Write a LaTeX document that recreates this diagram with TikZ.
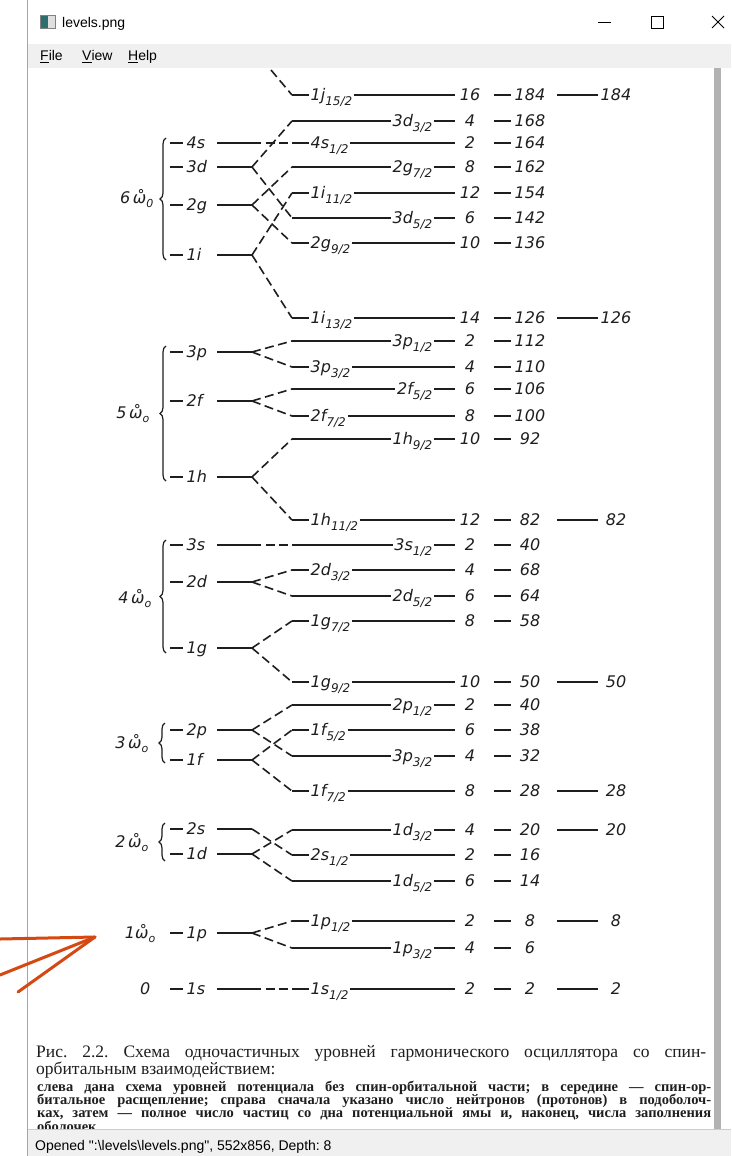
\documentclass[tikz,border=0pt]{standalone}
\usepackage{fontspec}
\setmainfont{Liberation Serif}
\newfontfamily\dia{DejaVu Sans}
\newfontfamily\ui{Liberation Sans}
\usetikzlibrary{decorations.pathreplacing}
\frenchspacing
\newcommand\sj[2]{#1\raisebox{-0.55ex}{\fontsize{12}{12}\selectfont #2}}
\newcommand\om[1]{\ooalign{ω\cr\hidewidth˚\hidewidth\cr}\raisebox{-0.55ex}{\fontsize{11}{11}\selectfont #1}}
\definecolor{ink}{HTML}{1E1E1E}
\definecolor{uibar}{HTML}{F0F0F0}
\definecolor{arr}{RGB}{214,72,18}
\definecolor{icon}{HTML}{2B6E6E}
\tikzset{
  lev/.style={line width=2.2pt, draw=ink},
  dl/.style={line width=1.6pt, draw=ink, dash pattern=on 9pt off 4.5pt},
  jlab/.style={font=\dia\itshape\fontsize{16}{16}\selectfont, inner sep=1.5pt, text=ink},
  num/.style={font=\dia\itshape\fontsize{16}{16}\selectfont, inner sep=0pt, text=ink},
  brc/.style={decorate, decoration={brace,amplitude=6pt}, line width=1.2pt, draw=ink},
  uitext/.style={font=\ui\fontsize{14}{14}\selectfont, inner sep=0pt, text=black},
  capA/.style={font=\frenchspacing\fontsize{17.5}{17.5}\selectfont, inner sep=0pt, text=ink},
  capB/.style={font=\frenchspacing\bfseries\fontsize{14.5}{14.5}\selectfont, inner sep=0pt, text=ink},
  orng/.style={line width=3pt, draw=arr, line cap=round}
}
\begin{document}
\begin{tikzpicture}[x=1pt,y=-1pt]
\useasboundingbox (0,0) rectangle (731,1156);
\fill[white] (0,0) rectangle (731,1156);

% ---------- window chrome ----------
\fill[uibar] (28,44) rectangle (731,68);
\draw[gray!70, line width=1pt] (27.5,0) -- (27.5,1156);
\fill[icon] (40,15) rectangle (48,28);
\fill[gray!25] (48,15) rectangle (55,28);
\draw[gray, line width=0.6pt] (40,15) rectangle (55,28);
\node[uitext, anchor=base west] (title) at (62,28) {levels.png};
\coordinate (minA) at (598,22); \coordinate (minB) at (611,22);
\draw[black, line width=0.9pt] (minA) -- (minB);
\coordinate (maxA) at (651,16); \coordinate (maxB) at (663,28);
\draw[black, line width=0.9pt] (maxA) rectangle (maxB);
\coordinate (xA) at (712,16); \coordinate (xB) at (724,28);
\coordinate (xC) at (712,28); \coordinate (xD) at (724,16);
\draw[black, line width=0.9pt] (xA) -- (xB) (xC) -- (xD);
\node[uitext, anchor=base west] (mFile) at (40,61) {\underline{F}ile};
\node[uitext, anchor=base west] (mView) at (82,61) {\underline{V}iew};
\node[uitext, anchor=base west] (mHelp) at (128,61) {\underline{H}elp};
\fill[gray!60] (714,68) rectangle (721,1130);

% ---------- right-hand levels ----------
\foreach \n/\y/\a/\b/\side/\deg/\cum/\mag in {
  1/95/1j/{15/2}/0/16/184/184,
  2/121/3d/{3/2}/1/4/168/0,
  3/143/4s/{1/2}/0/2/164/0,
  4/167/2g/{7/2}/1/8/162/0,
  5/193/1i/{11/2}/0/12/154/0,
  6/218/3d/{5/2}/1/6/142/0,
  7/243/2g/{9/2}/0/10/136/0,
  8/318/1i/{13/2}/0/14/126/126,
  9/341/3p/{1/2}/1/2/112/0,
  10/367/3p/{3/2}/0/4/110/0,
  11/389/2f/{5/2}/1/6/106/0,
  12/416/2f/{7/2}/0/8/100/0,
  13/439/1h/{9/2}/1/10/92/0,
  14/520/1h/{11/2}/0/12/82/82,
  15/545/3s/{1/2}/1/2/40/0,
  16/570/2d/{3/2}/0/4/68/0,
  17/596/2d/{5/2}/1/6/64/0,
  18/621/1g/{7/2}/0/8/58/0,
  19/682/1g/{9/2}/0/10/50/50,
  20/705/2p/{1/2}/1/2/40/0,
  21/730/1f/{5/2}/0/6/38/0,
  22/756/3p/{3/2}/1/4/32/0,
  23/791/1f/{7/2}/0/8/28/28,
  24/830/1d/{3/2}/1/4/20/20,
  25/855/2s/{1/2}/0/2/16/0,
  26/881/1d/{5/2}/1/6/14/0,
  27/921/1p/{1/2}/0/2/8/8,
  28/948/1p/{3/2}/1/4/6/0,
  29/989/1s/{1/2}/0/2/2/2}
{
  \coordinate (r\n) at (292,\y);
  \coordinate (e\n) at (455,\y);
  \ifnum\side=0
    \node[jlab, anchor=base west] (t\n) at (309,\y+5.8) {\sj{\a}{\b}};
  \else
    \node[jlab, anchor=base east] (t\n) at (434,\y+5.8) {\sj{\a}{\b}};
  \fi
  \draw[lev] (r\n) -- (r\n -| t\n.west);
  \draw[lev] (r\n -| t\n.east) -- (e\n);
  \node[num, anchor=base] (g\n) at (470,\y+5.8) {\deg};
  \coordinate (da\n) at (494,\y);
  \coordinate (db\n) at (511,\y);
  \draw[lev] (da\n) -- (db\n);
  \node[num, anchor=base] (c\n) at (530,\y+5.8) {\cum};
  \ifnum\mag>0
    \coordinate (ma\n) at (557,\y);
    \coordinate (mb\n) at (598,\y);
    \draw[lev] (ma\n) -- (mb\n);
    \node[num, anchor=base] (m\n) at (616,\y+5.8) {\mag};
  \fi
}

% ---------- left-hand (oscillator) levels ----------
\foreach \nm/\y in {4s/143, 3d/167, 2g/205, 1i/255, 3p/352, 2f/401, 1h/477,
                    3s/545, 2d/582, 1g/648, 2p/730, 1f/760, 2s/829, 1d/854,
                    1p/933, 1s/989}
{
  \coordinate (p\nm) at (170,\y);
  \coordinate (q\nm) at (183,\y);
  \draw[lev] (p\nm) -- (q\nm);
  \node[jlab, anchor=base west] (o\nm) at (185,\y+5.8) {\nm};
  \coordinate (a\nm) at (217,\y);
  \coordinate (s\nm) at (252,\y);
  \draw[lev] (a\nm) -- (s\nm);
}

% ---------- spin-orbit splitting (dashed) ----------
\coordinate (top) at (271,70);
\draw[dl] (top) -- (r1);
\foreach \f/\t in {4s/3, 3d/2, 3d/6, 2g/4, 2g/7, 1i/5, 1i/8, 3p/9, 3p/10,
                   2f/11, 2f/12, 1h/13, 1h/14, 3s/15, 2d/16, 2d/17, 1g/18,
                   1g/19, 2p/20, 2p/22, 1f/21, 1f/23, 2s/25, 1d/24, 1d/26,
                   1p/27, 1p/28, 1s/29}
  \draw[dl] (s\f) -- (r\t);

% ---------- shell labels and braces ----------
\node[jlab, anchor=base east] (w6) at (155,203) {6\,\om{0}};
\node[jlab, anchor=base east] (w5) at (151,418) {5\,\om{o}};
\node[jlab, anchor=base east] (w4) at (153,603) {4\,\om{o}};
\node[jlab, anchor=base east] (w3) at (150,748) {3\,\om{o}};
\node[jlab, anchor=base east] (w2) at (150,847) {2\,\om{o}};
\node[jlab, anchor=base east] (w1) at (157,938) {1\om{o}};
\node[jlab, anchor=base east] (w0) at (152,994.8) {0};
\draw[brc] (166,260) -- (166,138);
\draw[brc] (166,481) -- (166,346);
\draw[brc] (166,653) -- (166,540);
\draw[brc] (165,763) -- (165,723);
\draw[brc] (165,861) -- (165,823);

% ---------- caption ----------
\node[capA, anchor=base west] (cap1) at (36,1057)
  {\hbox to 670pt{Рис. 2.2. Схема одночастичных уровней гармонического осциллятора со спин-}};
\node[capA, anchor=base west] (cap2) at (36,1074)
  {орбитальным взаимодействием:};
\node[capB, anchor=base west] (cap3) at (37,1091)
  {\hbox to 674pt{слева дана схема уровней потенциала без спин-орбитальной части; в середине — спин-ор-}};
\node[capB, anchor=base west] (cap4) at (37,1104)
  {\hbox to 674pt{битальное расщепление; справа сначала указано число нейтронов (протонов) в подоболоч-}};
\node[capB, anchor=base west] (cap5) at (37,1117)
  {\hbox to 674pt{ках, затем — полное число частиц со дна потенциальной ямы и, наконец, числа заполнения}};
\node[capB, anchor=base west] (cap6) at (37,1131) {оболочек};

% ---------- status bar ----------
\fill[uibar] (28,1129) rectangle (731,1156);
\draw[gray!40, line width=0.6pt] (28,1129) -- (731,1129);
\node[uitext, anchor=base west] (status) at (35,1150)
  {Opened ":\textbackslash levels\textbackslash levels.png", 552x856, Depth: 8};

% ---------- orange annotation arrow ----------
\coordinate (tip) at (95,937);
\coordinate (o1) at (0,939);
\coordinate (o2) at (0,975);
\coordinate (o3) at (18,992);
\draw[orng] (o1) -- (tip);
\draw[orng] (o2) -- (tip);
\draw[orng] (o3) -- (tip);
\end{tikzpicture}
\end{document}
